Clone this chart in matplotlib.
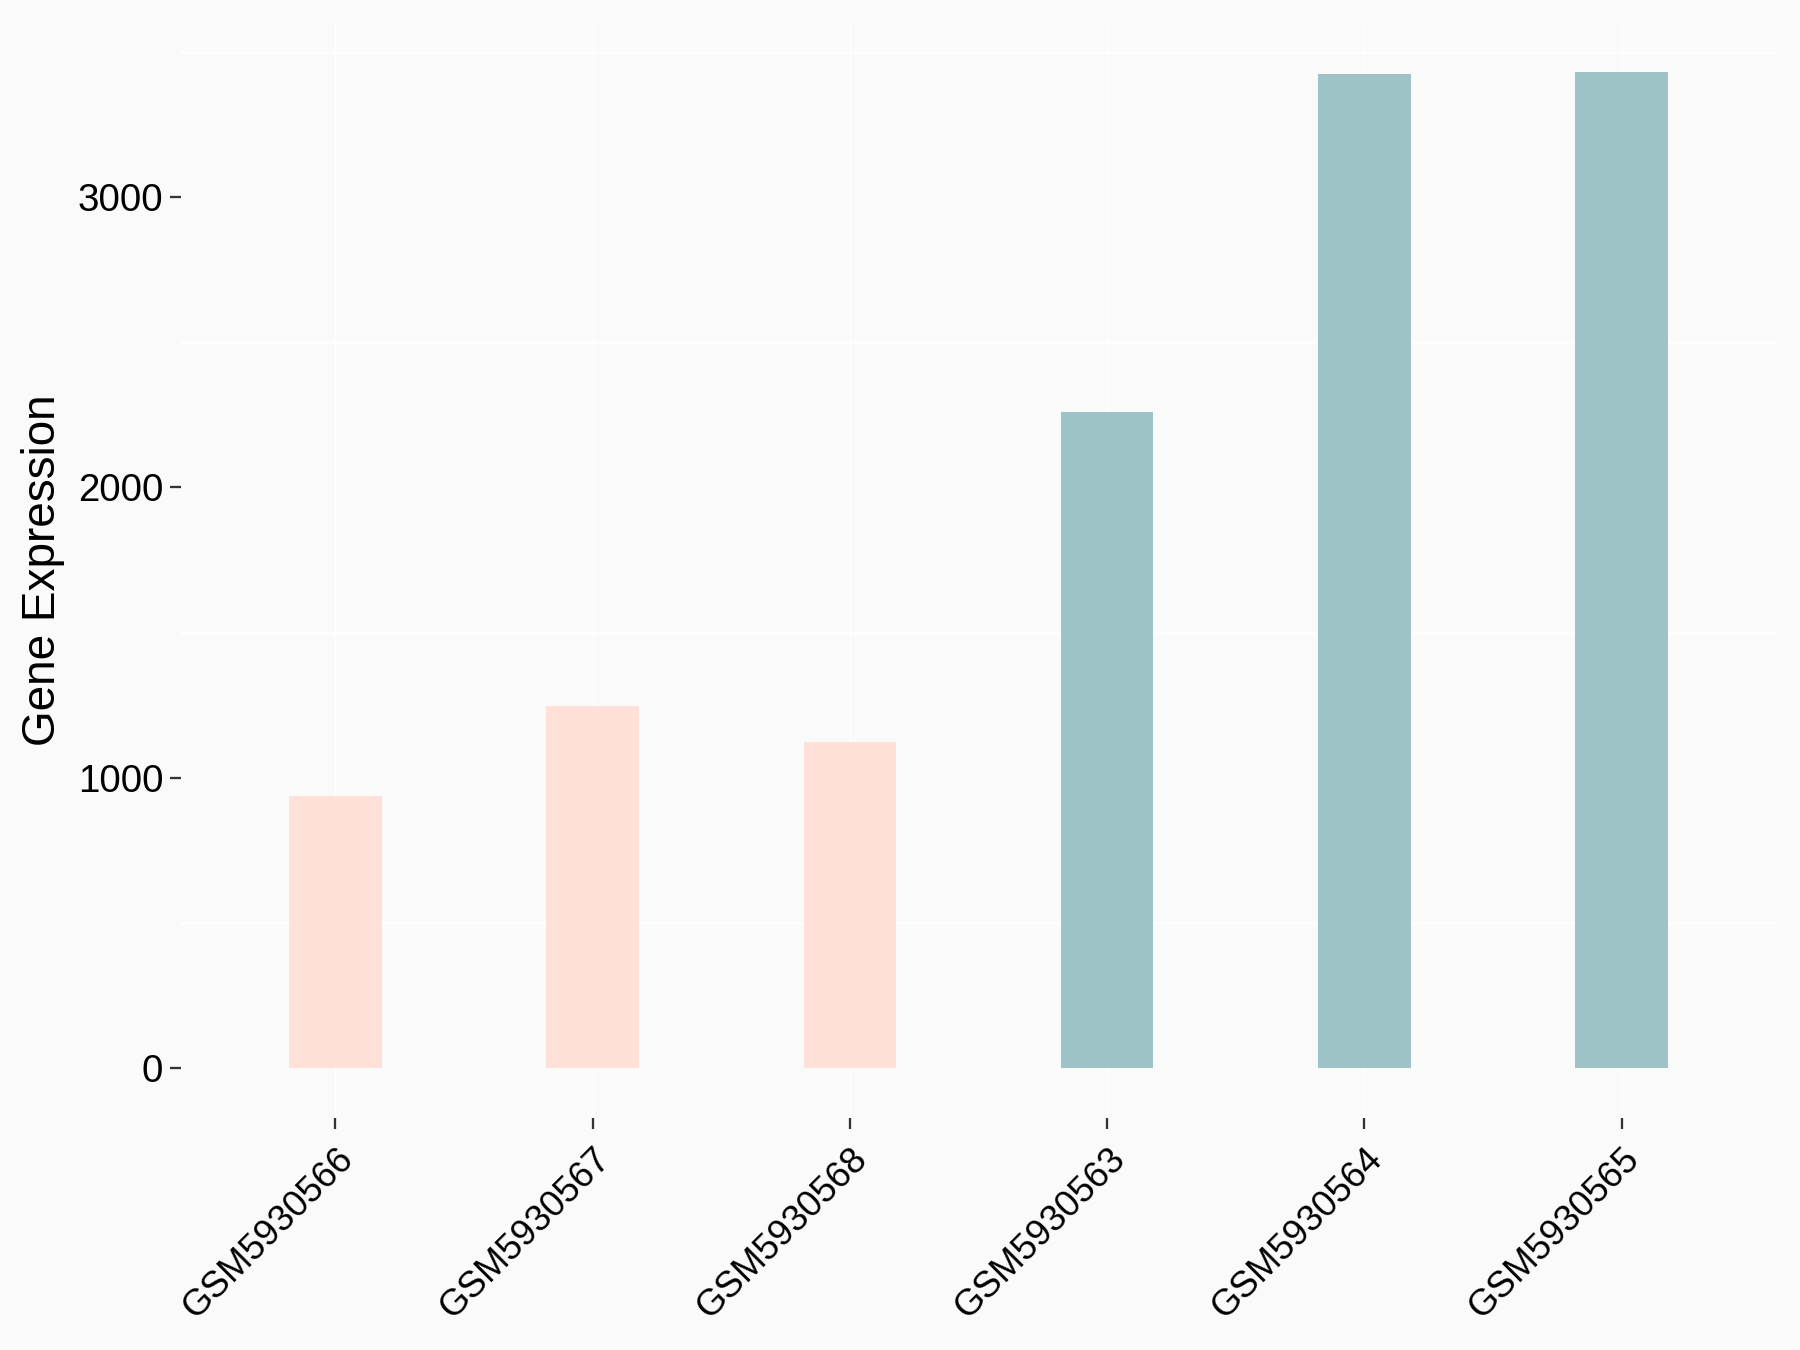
import matplotlib
matplotlib.use('Agg')
import matplotlib.pyplot as plt
from matplotlib.ticker import MultipleLocator

plt.rcParams['font.family'] = ['Liberation Sans', 'DejaVu Sans']

# 样本和表达量
samples = ['GSM5930566', 'GSM5930567', 'GSM5930568',
           'GSM5930563', 'GSM5930564', 'GSM5930565']
expression = [938, 1246, 1124, 2258, 3422, 3429]
groups = ['a', 'a', 'a', 'b', 'b', 'b']
group_colors = {'a': '#FFE1D7', 'b': '#9DC3C7'}

bg = '#FAFAFA'
fig = plt.figure(figsize=(12, 9), dpi=150, facecolor=bg)
ax = fig.add_axes([0.1006, 0.172, 0.886, 0.8112])
ax.set_facecolor(bg)

x = list(range(len(samples)))
colors = [group_colors[g] for g in groups]
ax.bar(x, expression, width=0.36, color=colors, zorder=2)

# 坐标轴范围(类似ggplot的扩展)
ymax = max(expression)
ax.set_xlim(-0.6, len(samples) - 0.4)
ax.set_ylim(-0.05 * ymax, ymax * 1.05)

ax.yaxis.set_major_locator(MultipleLocator(1000))
ax.yaxis.set_minor_locator(MultipleLocator(500))
ax.grid(which='minor', axis='y', color='white', linewidth=1.2, zorder=0)
ax.grid(which='major', axis='x', color='white', linewidth=0.6, zorder=0)
ax.tick_params(which='minor', length=0)

ax.set_xticks(x)
ax.set_xticklabels(samples, rotation=45, ha='right', rotation_mode='anchor')

for s in ax.spines.values():
    s.set_visible(False)

ax.tick_params(axis='both', which='major', length=5.3,
               width=1.1, color='#333333', labelcolor='black')
ax.tick_params(axis='x', labelsize=17.5, pad=6)
ax.tick_params(axis='y', labelsize=18.5, pad=3.3)
ax.set_ylabel('Gene Expression', fontsize=22, labelpad=6)

fig.savefig('out.png', dpi=150, facecolor=bg)
